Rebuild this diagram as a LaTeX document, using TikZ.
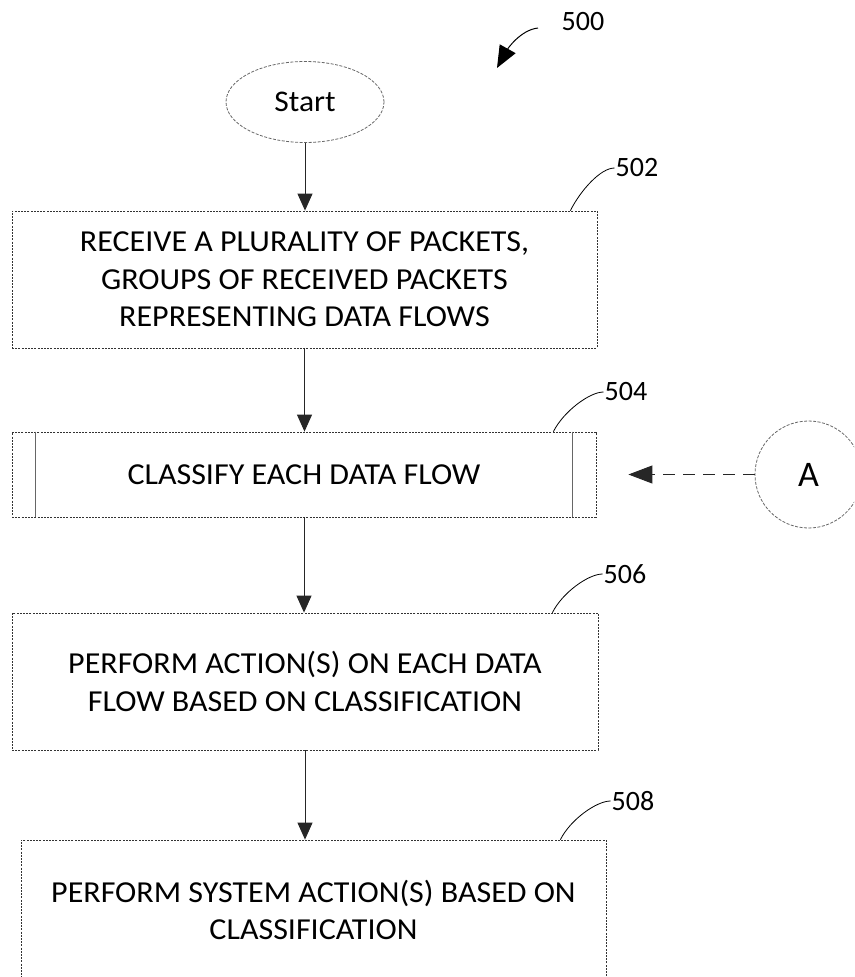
\documentclass[tikz,border=0pt]{standalone}
\usepackage{fontspec}
\setmainfont{Carlito}[FakeStretch=1.05]
\newfontfamily\numfont{Carlito}
\usetikzlibrary{arrows.meta,calc,shapes.geometric}
\newcommand\flowtextsize{\fontsize{30.5}{37.5}\selectfont}
\newcommand\termtextsize{\fontsize{30}{34}\selectfont}
\newcommand\refnumsize{\numfont\fontsize{28}{30}\selectfont}
\begin{document}
\begin{tikzpicture}[x=1pt,y=-1pt,
  procbox/.style={draw=black!80, line width=0.8pt, dash pattern=on 2pt off 1.2pt,
    align=center, font=\flowtextsize, inner sep=0pt},
  termshape/.style={draw=black!60, line width=0.8pt, dash pattern=on 3pt off 1.5pt,
    font=\termtextsize, inner sep=0pt},
  flow/.style={draw=black!85, line width=1pt, -{Triangle[length=17pt,width=15pt]}},
  offpage/.style={draw=black!85, line width=1pt, dash pattern=on 12pt off 8pt,
    -{Triangle[length=24pt,width=18pt]}},
  leader/.style={draw=black, line width=0.8pt},
  refnum/.style={font=\refnumsize, inner sep=1pt},
  divider/.style={draw=black!60, line width=0.8pt}]

\path[use as bounding box, clip] (0,0) rectangle (854,977);

% terminal and off-page connector
\node[termshape, ellipse, minimum width=158pt, minimum height=81pt] (start) at (305,102) {Start};
\node[termshape, circle, minimum size=107pt, font=\numfont\fontsize{36}{40}\selectfont] (conA) at (808.5,474.5) {A};

% process steps
\node[procbox, minimum width=585pt, minimum height=137pt] (b502) at (304.5,279.5)
  {RECEIVE A PLURALITY OF PACKETS,\\GROUPS OF RECEIVED PACKETS\\REPRESENTING DATA FLOWS};
\node[procbox, minimum width=584pt, minimum height=85pt] (b504) at (304,474.5)
  {CLASSIFY EACH DATA FLOW};
\node[procbox, minimum width=586pt, minimum height=137pt] (b506) at (305,681.5)
  {PERFORM ACTION(S) ON EACH DATA\\FLOW BASED ON CLASSIFICATION};
\node[procbox, minimum width=585pt, minimum height=140pt] (b508) at (313.5,910)
  {PERFORM SYSTEM ACTION(S) BASED ON\\CLASSIFICATION};

% predefined-process side bars
\draw[divider] ([xshift=24pt]b504.north west) -- ([xshift=24pt]b504.south west);
\draw[divider] ([xshift=-24pt]b504.north east) -- ([xshift=-24pt]b504.south east);

% flow connectors
\draw[flow] (start.south) -- (start.south |- b502.north);
\draw[flow] (b502.south) -- (b502.south |- b504.north);
\draw[flow] (b504.south) -- (b504.south |- b506.north);
\draw[flow] (b506.south) -- (b506.south |- b508.north);

\coordinate (aTip) at ($(b504.east)+(32,0)$);
\draw[offpage] (conA.west) -- (aTip);

% reference numerals
\node[refnum] (l500) at (583,22) {500};
\node[refnum] (l502) at (637,168) {502};
\node[refnum] (l504) at (626,392) {504};
\node[refnum] (l506) at (625,574) {506};
\node[refnum] (l508) at (633,801) {508};

\coordinate (p500) at (538,28);
\coordinate (t500) at (497,68);
\draw[line width=1pt, -{Triangle[length=22pt,width=18pt]}]
  (p500) .. controls +(-18,2) and +(10,-18) .. (t500);

\draw[leader] ($(b502.north east)+(-27,0)$) .. controls +(10,-20) and +(-14,0) .. (l502.west);
\draw[leader] ($(b504.north east)+(-43,0)$) .. controls +(10,-20) and +(-14,0) .. (l504.west);
\draw[leader] ($(b506.north east)+(-46,0)$) .. controls +(10,-20) and +(-14,0) .. (l506.west);
\draw[leader] ($(b508.north east)+(-46,0)$) .. controls +(10,-20) and +(-14,0) .. (l508.west);
\end{tikzpicture}
\end{document}
